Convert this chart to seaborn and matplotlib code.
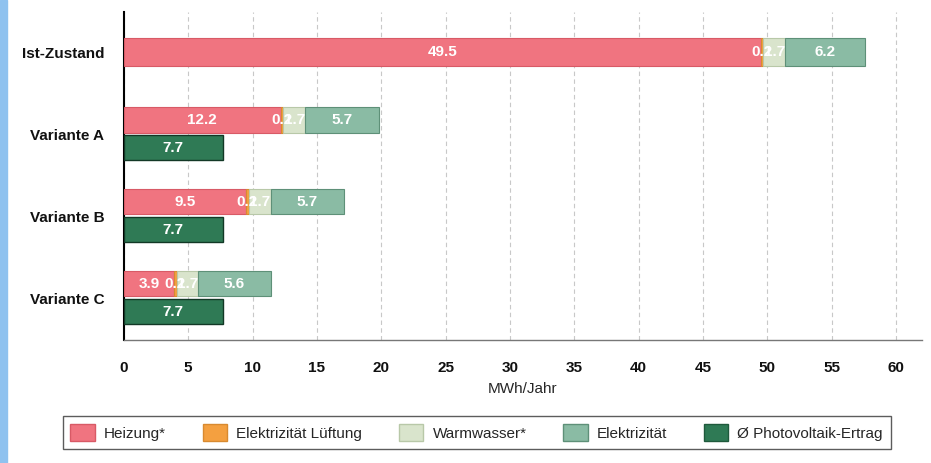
import matplotlib
matplotlib.use("Agg")
import matplotlib.pyplot as plt
import seaborn as sns
import numpy as np
from matplotlib.ticker import MultipleLocator
from matplotlib.patches import Patch, Rectangle

categories = ["Ist-Zustand", "Variante A", "Variante B", "Variante C"]
heizung = [49.5, 12.2, 9.5, 3.9]
lueftung = [0.2, 0.2, 0.2, 0.2]
warmwasser = [1.7, 1.7, 1.7, 1.7]
elektrizitaet = [6.2, 5.7, 5.7, 5.6]
pv_ertrag = [None, 7.7, 7.7, 7.7]
series_names = ["Heizung*", "Elektrizität Lüftung", "Warmwasser*", "Elektrizität", "Ø Photovoltaik-Ertrag"]

sns.set_theme(style="white")
plt.rcParams["font.family"] = ["Liberation Sans", "DejaVu Sans"]

colors = ["#f07480", "#f4a040", "#d9e4cc", "#8abba4", "#2f7a55"]
edges = ["#d85a66", "#d88a30", "#b8c8a8", "#5e9078", "#1f5a3c"]

fig = plt.figure(figsize=(9.31, 4.63), dpi=100)
fig.patch.set_facecolor("white")
ax = fig.add_axes([0.133, 0.266, 0.857, 0.708])

stack = [heizung, lueftung, warmwasser, elektrizitaet]
h = 0.31
for i, cat in enumerate(categories):
    if pv_ertrag[i] is None:
        y_s = i
        hh = 0.34
    else:
        y_s = i - 0.175
        hh = h
    left = 0.0
    for k, vals in enumerate(stack):
        v = vals[i]
        ax.barh(y_s, v, left=left, height=hh, color=colors[k], edgecolor=edges[k], linewidth=0.8, zorder=3)
        ax.text(left + v / 2, y_s, f"{v:.1f}", ha="center", va="center", color="white",
                fontsize=11, fontweight="bold", zorder=4)
        left += v
    if pv_ertrag[i] is not None:
        y_p = i + 0.165
        v = pv_ertrag[i]
        ax.barh(y_p, v, height=h, color=colors[4], edgecolor="#123826", linewidth=1.0, zorder=3)
        ax.text(v / 2, y_p, f"{v:.1f}", ha="center", va="center", color="white",
                fontsize=11, fontweight="bold", zorder=4)

ax.set_xlim(0, 62)
ax.set_ylim(3.51, -0.49)
ax.xaxis.set_major_locator(MultipleLocator(5))
ax.xaxis.set_minor_locator(MultipleLocator(2.5))
ax.set_xticks(np.arange(0, 61, 5))
ax.set_yticks(range(len(categories)))
ax.set_yticklabels(categories)
ax.set_yticks([0.5, 1.5, 2.5], minor=True)
ax.grid(axis="x", which="major", linestyle=(0, (4, 3)), color="#c8c8c8", linewidth=0.8, zorder=0)
ax.grid(axis="y", visible=False)
for s in ["top", "right"]:
    ax.spines[s].set_visible(False)
ax.spines["left"].set_color("black")
ax.spines["left"].set_linewidth(1.5)
ax.spines["bottom"].set_color("#777777")
ax.spines["bottom"].set_linewidth(1.0)
ax.tick_params(axis="x", which="major", direction="inout", length=7, color="#555555", labelsize=11, pad=12)
ax.tick_params(axis="x", which="minor", direction="inout", length=4, color="#555555")
ax.tick_params(axis="y", which="both", direction="out", length=4, color="#777777", labelsize=11, pad=10)
ax.tick_params(axis="y", which="minor", length=3)
ax.set_xlabel("MWh/Jahr", fontsize=11, labelpad=5)
for lab in ax.get_yticklabels() + ax.get_xticklabels():
    lab.set_fontweight("bold")
    lab.set_color("#111111")

handles = [Patch(facecolor=colors[k], edgecolor=edges[k]) for k in range(5)]
leg = fig.legend(handles, series_names, loc="center", bbox_to_anchor=(0.512, 0.0655), ncol=5,
                 frameon=True, fancybox=False, edgecolor="#333333", fontsize=11,
                 handlelength=1.6, handleheight=1.4, columnspacing=2.4, handletextpad=0.6,
                 borderpad=0.5)
leg.get_frame().set_linewidth(1.0)

fig.patches.append(Rectangle((0, 0), 0.008, 1, transform=fig.transFigure, color="#8fc2ef", zorder=0))

fig.savefig("out.png", dpi=100)
